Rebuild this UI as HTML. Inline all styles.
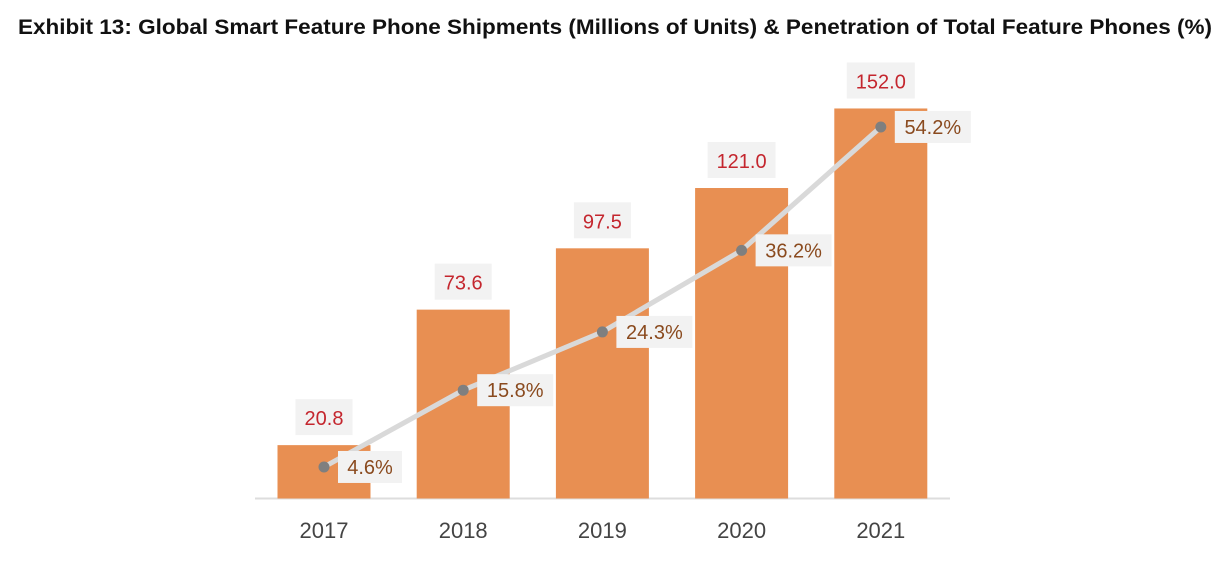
<!DOCTYPE html>
<html><head><meta charset="utf-8"><style>
body{margin:0;background:#fff;width:1229px;height:565px;overflow:hidden}
svg{display:block}
text{font-family:"Liberation Sans",Arial,sans-serif}
</style></head><body>
<svg width="1229" height="565">
<text x="18" y="34" font-size="21" font-weight="bold" fill="#111" textLength="1194" lengthAdjust="spacingAndGlyphs">Exhibit 13: Global Smart Feature Phone Shipments (Millions of Units) &amp; Penetration of Total Feature Phones (%)</text>
<line x1="255" y1="498.5" x2="950" y2="498.5" stroke="#ddd" stroke-width="2"/>
<g id="bars"></g><g id="line"></g><g id="labels"></g>
</svg>
<script>
const categories=["2017","2018","2019","2020","2021"];
const shipments=[20.8,73.6,97.5,121.0,152.0];
const shipLabels=["20.8","73.6","97.5","121.0","152.0"];
const penetration=[4.6,15.8,24.3,36.2,54.2];
const penLabels=["4.6%","15.8%","24.3%","36.2%","54.2%"];
const NS="http://www.w3.org/2000/svg";
const base=498.5;
const xC=i=>324+i*139.2;
const yBar=v=>base-v*2.566;
const yPct=v=>base-v*6.855;
function mk(tag,attrs,parent){const e=document.createElementNS(NS,tag);for(const k in attrs)e.setAttribute(k,attrs[k]);document.getElementById(parent).appendChild(e);return e;}
categories.forEach((c,i)=>{
  const r=mk('rect',{x:xC(i)-46.5,y:yBar(shipments[i]),width:93,height:base-yBar(shipments[i]),fill:'#e88f52'},'bars');
  
  
  const t=mk('text',{x:xC(i),y:538,'font-size':22,'text-anchor':'middle',fill:'#444'},'labels');
  t.textContent=c;
  
  
  const bt=yBar(shipments[i]);
  const w=shipLabels[i].length>4?68:57;
  const bx=mk('rect',{x:xC(i)-w/2,y:bt-46,width:w,height:36,fill:'#f2f2f2'},'labels');
  
  
  const vt=mk('text',{x:xC(i),y:bt-20,'font-size':20,'text-anchor':'middle',fill:'#c4262e'},'labels');
  vt.textContent=shipLabels[i];
  
  
});
const pts=penetration.map((v,i)=>xC(i)+','+yPct(v)).join(' ');
const pl=mk('polyline',{points:pts,fill:'none',stroke:'#d9d9d9','stroke-width':5,'stroke-linecap':'round'},'line');


penetration.forEach((v,i)=>{
  const y=yPct(v);
  const d=mk('circle',{cx:xC(i),cy:y,r:5.5,fill:'#7f7f7f'},'line');
  
  
  const w=penLabels[i].length>4?76:64;
  const b=mk('rect',{x:xC(i)+14,y:y-16,width:w,height:32,fill:'#f2f2f2'},'labels');
  
  
  const t=mk('text',{x:xC(i)+14+w/2,y:y+7,'font-size':20,'text-anchor':'middle',fill:'#8a4a1e'},'labels');
  t.textContent=penLabels[i];
  
  
});
</script>
</body></html>
